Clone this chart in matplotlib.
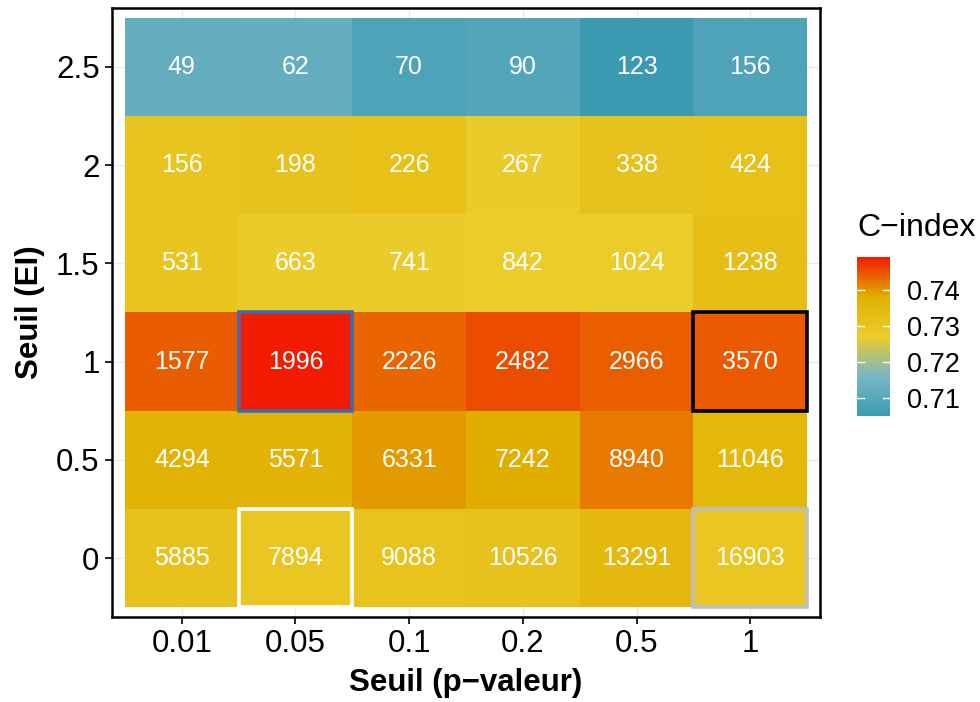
import matplotlib
matplotlib.use("Agg")
import matplotlib.pyplot as plt
import numpy as np
from matplotlib.colors import LinearSegmentedColormap, Normalize
from matplotlib.patches import Rectangle

plt.rcParams['font.family'] = ['Liberation Sans', 'DejaVu Sans']

# Data
x_labels = ["0.01", "0.05", "0.1", "0.2", "0.5", "1"]          # Seuil (p-valeur)
y_labels = ["0", "0.5", "1", "1.5", "2", "2.5"]                # Seuil (EI)

# rows from y = 0 (bottom) to y = 2.5 (top)
counts = [
    [5885, 7894, 9088, 10526, 13291, 16903],
    [4294, 5571, 6331, 7242, 8940, 11046],
    [1577, 1996, 2226, 2482, 2966, 3570],
    [531, 663, 741, 842, 1024, 1238],
    [156, 198, 226, 267, 338, 424],
    [49, 62, 70, 90, 123, 156],
]
cindex = [
    [0.7308, 0.7293, 0.7304, 0.7308, 0.7346, 0.7293],
    [0.7369, 0.7361, 0.7396, 0.7380, 0.7420, 0.7350],
    [0.7441, 0.7490, 0.7435, 0.7453, 0.7440, 0.7443],
    [0.7297, 0.7272, 0.7274, 0.7270, 0.7270, 0.7323],
    [0.7300, 0.7308, 0.7316, 0.7274, 0.7308, 0.7316],
    [0.7124, 0.7126, 0.7086, 0.7095, 0.7050, 0.7086],
]
# highlighted cells: (x index, y index, colour)
highlights = [(1, 2, "#3E6DAE"), (5, 2, "black"), (1, 0, "white"), (5, 0, "#BEBEBE")]

zissou = ["#3B9AB2", "#78B7C5", "#EBCC2A", "#E1AF00", "#F21A00"]
cmap = LinearSegmentedColormap.from_list("zissou", zissou, N=300)

C = np.array(cindex)
N = np.array(counts)
norm = Normalize(vmin=C.min(), vmax=C.max())

fig = plt.figure(figsize=(9.8, 7.02), dpi=100)
ax = fig.add_axes([112/980, 1-617/702, (820-112)/980, (617-8)/702])

# grid (theme_bw)
for i in range(6):
    ax.axvline(i, color="#EBEBEB", lw=1, zorder=0)
    ax.axhline(i, color="#EBEBEB", lw=1, zorder=0)

mesh = ax.pcolormesh(np.arange(7) - 0.5, np.arange(7) - 0.5, C, cmap=cmap, norm=norm, zorder=1)

for yi in range(6):
    for xi in range(6):
        ax.text(xi, yi, str(N[yi][xi]), ha="center", va="center", color="white",
                fontsize=18, zorder=4)

for xi, yi, col in highlights:
    ax.add_patch(Rectangle((xi - 0.5, yi - 0.5), 1, 1, fill=False, edgecolor=col,
                           lw=2.6, zorder=3, joinstyle="miter"))

ax.set_xlim(-0.614, 5.614)
ax.set_ylim(-0.6, 5.6)
ax.set_xticks(range(6))
ax.set_xticklabels(x_labels)
ax.set_yticks(range(6))
ax.set_yticklabels(y_labels)
ax.tick_params(axis="both", labelsize=22.5, length=5, width=1.2, color="black", pad=4)
for s in ax.spines.values():
    s.set_linewidth(1.8)
    s.set_color("black")
    s.set_zorder(5)
ax.set_xlabel("Seuil (p\u2212valeur)", fontsize=22.5, fontweight="bold", labelpad=6)
ax.set_ylabel("Seuil (EI)", fontsize=22.5, fontweight="bold", labelpad=8)

# colorbar
cax = fig.add_axes([857/980, 1-416/702, 33/980, 159/702])
cb = fig.colorbar(mesh, cax=cax, ticks=[0.71, 0.72, 0.73, 0.74])
cb.outline.set_visible(False)
cb.ax.tick_params(length=0, labelsize=19.5, pad=12)
cb.ax.set_yticklabels(["0.71", "0.72", "0.73", "0.74"])
tr = cax.get_yaxis_transform()
for t in [0.71, 0.72, 0.73, 0.74]:
    cax.plot([0, 0.2], [t, t], color="white", lw=1, transform=tr)
    cax.plot([0.8, 1], [t, t], color="white", lw=1, transform=tr)
fig.text(857/980, 1-228/702, "C\u2212index", fontsize=23, ha="left", va="center")

fig.savefig("out.png", dpi=100)
